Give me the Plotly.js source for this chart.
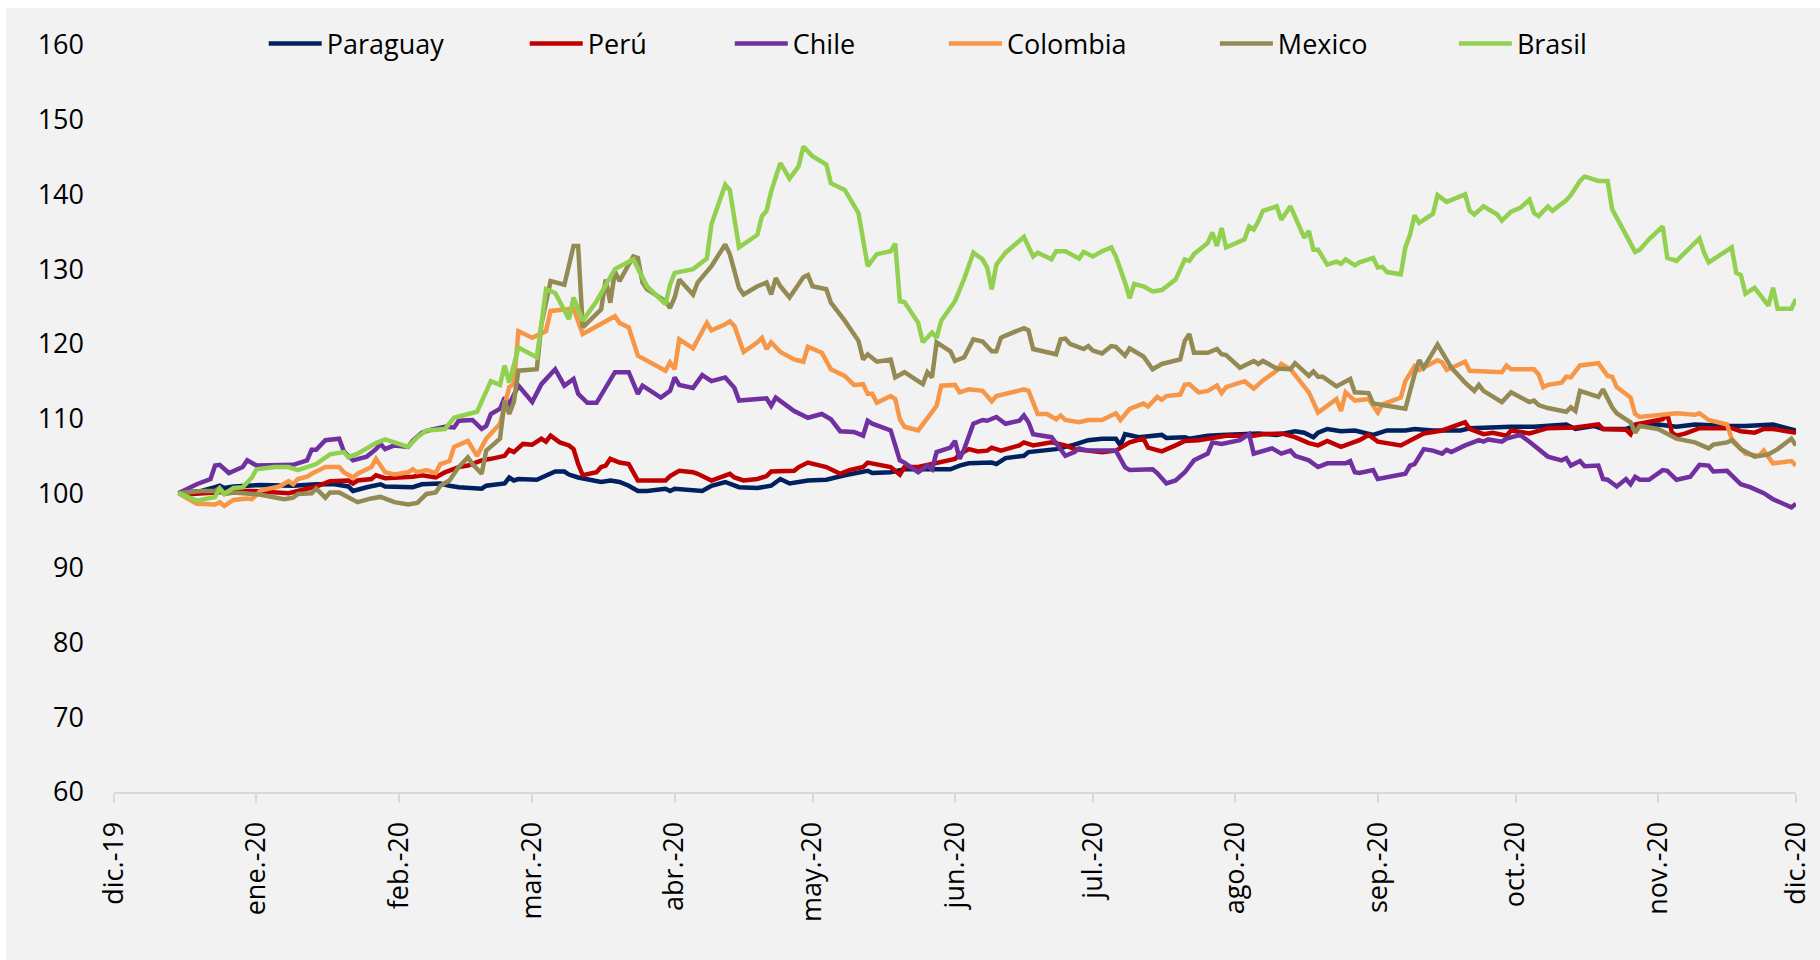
<!DOCTYPE html>
<html>
<head>
<meta charset="utf-8">
<script src="https://cdn.plot.ly/plotly-3.0.1.min.js"></script>
<style>
html,body{margin:0;padding:0;background:#ffffff;width:1820px;height:960px;overflow:hidden}
#chart{position:absolute;left:6px;top:8px;width:1814px;height:952px}
</style>
</head>
<body>
<div id="chart"></div>
<script>
// ---------- Data (index, base 100) ----------
const mesFechas = ['2019-12-01','2020-01-01','2020-02-01','2020-03-01','2020-04-01','2020-05-01','2020-06-01','2020-07-01','2020-08-01','2020-09-01','2020-10-01','2020-11-01','2020-12-01'];
const mesEtiquetas = ['dic.-19','ene.-20','feb.-20','mar.-20','abr.-20','may.-20','jun.-20','jul.-20','ago.-20','sep.-20','oct.-20','nov.-20','dic.-20'];
const yTicks = [60,70,80,90,100,110,120,130,140,150,160];

const paraguayFechas = [
'2019-12-15','2019-12-20','2019-12-23','2019-12-24','2019-12-25','2019-12-27','2020-01-02','2020-01-09','2020-01-14','2020-01-18',
'2020-01-21','2020-01-22','2020-01-25','2020-01-28','2020-01-29','2020-02-03','2020-02-04','2020-02-06','2020-02-10','2020-02-12',
'2020-02-14','2020-02-19','2020-02-20','2020-02-24','2020-02-25','2020-02-26','2020-02-27','2020-03-02','2020-03-04','2020-03-06',
'2020-03-08','2020-03-09','2020-03-11','2020-03-16','2020-03-18','2020-03-20','2020-03-22','2020-03-24','2020-03-26','2020-03-30',
'2020-03-31','2020-04-01','2020-04-07','2020-04-09','2020-04-12','2020-04-14','2020-04-15','2020-04-19','2020-04-21','2020-04-22',
'2020-04-24','2020-04-26','2020-04-30','2020-05-04','2020-05-08','2020-05-11','2020-05-13','2020-05-14','2020-05-18','2020-05-21',
'2020-05-26','2020-05-31','2020-06-02','2020-06-04','2020-06-09','2020-06-10','2020-06-12','2020-06-16','2020-06-17','2020-06-21',
'2020-06-23','2020-06-27','2020-06-30','2020-07-03','2020-07-06','2020-07-07','2020-07-08','2020-07-11','2020-07-15','2020-07-16',
'2020-07-17','2020-07-21','2020-07-22','2020-07-26','2020-07-29','2020-08-03','2020-08-06','2020-08-10','2020-08-14','2020-08-16',
'2020-08-18','2020-08-19','2020-08-21','2020-08-24','2020-08-27','2020-08-31','2020-09-03','2020-09-07','2020-09-09','2020-09-13',
'2020-09-19','2020-09-21','2020-09-25','2020-09-30','2020-10-05','2020-10-12','2020-10-14','2020-10-18','2020-10-20','2020-10-25',
'2020-10-27','2020-11-01','2020-11-05','2020-11-09','2020-11-16','2020-11-20','2020-11-26','2020-11-29','2020-12-01'];
const paraguayValores = [
100.0,100.3,100.8,101.0,100.7,100.9,101.1,101.0,101.2,101.2,
100.9,100.3,100.8,101.2,100.9,100.9,100.8,101.2,101.3,101.0,
100.8,100.6,101.0,101.3,102.1,101.7,101.9,101.8,102.3,102.9,
102.9,102.5,102.1,101.5,101.7,101.5,101.0,100.3,100.3,100.6,
100.3,100.6,100.3,101.0,101.5,101.1,100.8,100.7,101.0,101.0,
101.9,101.3,101.7,101.8,102.4,102.7,103.0,102.7,102.8,103.2,
103.2,103.2,103.7,104.0,104.1,103.9,104.7,105.0,105.5,105.7,
105.9,106.5,107.1,107.3,107.3,106.4,107.9,107.5,107.7,107.8,
107.4,107.5,107.3,107.7,107.8,107.9,108.0,107.8,108.3,108.1,
107.5,108.1,108.6,108.3,108.4,107.8,108.4,108.4,108.6,108.4,
108.4,108.7,108.8,108.9,108.9,109.2,108.6,109.0,108.6,108.6,
109.0,109.2,108.9,109.2,109.0,109.0,109.2,108.8,108.4];

const peruFechas = [
'2019-12-15','2019-12-18','2019-12-23','2019-12-26','2019-12-28','2019-12-31','2020-01-02','2020-01-06','2020-01-08','2020-01-10',
'2020-01-12','2020-01-14','2020-01-17','2020-01-20','2020-01-21','2020-01-22','2020-01-23','2020-01-26','2020-01-27','2020-01-29',
'2020-02-03','2020-02-04','2020-02-06','2020-02-09','2020-02-11','2020-02-14','2020-02-16','2020-02-19','2020-02-21','2020-02-24',
'2020-02-25','2020-02-26','2020-02-28','2020-03-01','2020-03-03','2020-03-04','2020-03-05','2020-03-07','2020-03-09','2020-03-10',
'2020-03-11','2020-03-12','2020-03-15','2020-03-16','2020-03-17','2020-03-18','2020-03-20','2020-03-22','2020-03-24','2020-03-30',
'2020-03-31','2020-04-02','2020-04-05','2020-04-06','2020-04-09','2020-04-13','2020-04-14','2020-04-16','2020-04-19','2020-04-21',
'2020-04-22','2020-04-27','2020-04-28','2020-04-30','2020-05-04','2020-05-05','2020-05-07','2020-05-09','2020-05-12','2020-05-13',
'2020-05-15','2020-05-18','2020-05-20','2020-05-21','2020-05-24','2020-05-27','2020-05-28','2020-06-01','2020-06-02','2020-06-04',
'2020-06-06','2020-06-08','2020-06-09','2020-06-11','2020-06-15','2020-06-16','2020-06-18','2020-06-22','2020-06-25','2020-06-27',
'2020-07-03','2020-07-06','2020-07-09','2020-07-12','2020-07-13','2020-07-16','2020-07-19','2020-07-21','2020-07-24','2020-07-28',
'2020-07-30','2020-08-02','2020-08-05','2020-08-07','2020-08-11','2020-08-14','2020-08-17','2020-08-19','2020-08-21','2020-08-24',
'2020-08-26','2020-08-28','2020-08-30','2020-09-01','2020-09-06','2020-09-08','2020-09-11','2020-09-15','2020-09-17','2020-09-20',
'2020-09-21','2020-09-24','2020-09-26','2020-09-29','2020-09-30','2020-10-04','2020-10-08','2020-10-14','2020-10-19','2020-10-20',
'2020-10-25','2020-10-26','2020-10-27','2020-10-30','2020-11-02','2020-11-03','2020-11-04','2020-11-05','2020-11-07','2020-11-10',
'2020-11-17','2020-11-19','2020-11-22','2020-11-24','2020-11-26','2020-11-28','2020-12-01'];
const peruValores = [
100.0,99.9,100.1,100.3,100.3,100.3,100.2,100.0,100.0,100.3,
100.6,100.9,101.6,101.7,101.7,101.3,101.7,101.9,102.4,102.0,
102.1,102.2,102.4,102.1,102.8,103.5,103.7,104.4,104.6,105.0,
105.8,105.5,106.6,106.5,107.3,106.9,107.7,106.8,106.4,105.9,
103.9,102.4,102.8,103.5,103.7,104.6,104.1,103.9,101.7,101.7,
102.3,103.0,102.8,102.6,101.7,102.6,102.1,101.7,101.9,102.3,
102.9,103.0,103.5,104.1,103.5,103.2,102.6,103.1,103.5,104.1,
103.8,103.5,102.5,103.5,103.5,103.9,104.1,104.6,105.2,105.9,
105.6,105.7,106.1,105.7,106.4,106.8,106.4,106.8,106.4,105.9,
105.5,105.7,106.8,107.3,106.1,105.6,106.4,107.0,107.1,107.5,
107.7,107.7,107.7,107.9,108.0,107.5,106.7,106.4,107.0,106.2,
106.7,107.1,107.8,106.9,106.4,107.1,108.0,108.4,108.8,109.5,
108.6,107.9,108.1,107.7,108.4,108.0,108.7,108.8,109.2,108.6,
108.5,107.9,109.2,109.5,109.9,110.6,108.1,107.7,108.0,108.7,
108.7,108.3,108.1,108.6,108.6,108.4,108.1];

const chileFechas = [
'2019-12-15','2019-12-19','2019-12-22','2019-12-23','2019-12-24','2019-12-26','2019-12-29','2019-12-30','2020-01-01','2020-01-05',
'2020-01-09','2020-01-12','2020-01-13','2020-01-14','2020-01-16','2020-01-19','2020-01-20','2020-01-22','2020-01-25','2020-01-27',
'2020-01-28','2020-01-29','2020-01-31','2020-02-03','2020-02-04','2020-02-06','2020-02-08','2020-02-11','2020-02-13','2020-02-14',
'2020-02-17','2020-02-19','2020-02-20','2020-02-21','2020-02-23','2020-02-24','2020-02-25','2020-02-27','2020-03-01','2020-03-03',
'2020-03-06','2020-03-08','2020-03-10','2020-03-11','2020-03-13','2020-03-15','2020-03-17','2020-03-19','2020-03-22','2020-03-24',
'2020-03-25','2020-03-29','2020-03-31','2020-04-01','2020-04-02','2020-04-05','2020-04-07','2020-04-09','2020-04-12','2020-04-14',
'2020-04-15','2020-04-21','2020-04-22','2020-04-23','2020-04-27','2020-04-29','2020-04-30','2020-05-03','2020-05-05','2020-05-07',
'2020-05-10','2020-05-12','2020-05-13','2020-05-14','2020-05-18','2020-05-20','2020-05-21','2020-05-24','2020-05-26','2020-05-27',
'2020-05-28','2020-05-31','2020-06-01','2020-06-02','2020-06-03','2020-06-05','2020-06-07','2020-06-08','2020-06-10','2020-06-12',
'2020-06-15','2020-06-16','2020-06-17','2020-06-18','2020-06-22','2020-06-23','2020-06-25','2020-06-27','2020-06-28','2020-06-30',
'2020-07-06','2020-07-08','2020-07-09','2020-07-14','2020-07-15','2020-07-17','2020-07-19','2020-07-21','2020-07-23','2020-07-26',
'2020-07-27','2020-07-29','2020-07-30','2020-08-02','2020-08-04','2020-08-05','2020-08-09','2020-08-11','2020-08-13','2020-08-14',
'2020-08-17','2020-08-19','2020-08-21','2020-08-25','2020-08-26','2020-08-27','2020-08-28','2020-08-31','2020-09-01','2020-09-07',
'2020-09-08','2020-09-09','2020-09-11','2020-09-13','2020-09-15','2020-09-16','2020-09-17','2020-09-20','2020-09-23','2020-09-24',
'2020-09-25','2020-09-28','2020-09-29','2020-10-02','2020-10-04','2020-10-06','2020-10-08','2020-10-11','2020-10-12','2020-10-13',
'2020-10-15','2020-10-16','2020-10-19','2020-10-20','2020-10-21','2020-10-23','2020-10-25','2020-10-26','2020-10-27','2020-10-28',
'2020-10-30','2020-11-02','2020-11-03','2020-11-05','2020-11-08','2020-11-10','2020-11-12','2020-11-13','2020-11-16','2020-11-19',
'2020-11-21','2020-11-24','2020-11-26','2020-11-30','2020-12-01'];
const chileValores = [
100.0,101.2,101.9,103.7,103.8,102.7,103.5,104.4,103.7,103.7,
103.8,104.4,105.8,105.8,107.1,107.3,105.6,104.4,104.9,105.9,
106.6,105.9,106.4,106.2,107.0,108.1,108.5,108.9,108.8,109.7,
109.8,108.6,109.0,110.6,111.3,112.8,111.9,114.4,112.2,114.6,
116.6,114.4,115.3,113.3,112.1,112.1,114.1,116.2,116.2,113.3,
114.4,112.8,113.7,115.5,114.5,114.1,115.8,115.0,115.5,114.1,
112.4,112.7,111.7,112.8,111.0,110.4,110.1,110.6,109.9,108.3,
108.2,107.7,109.7,109.3,108.4,104.4,104.1,102.8,103.7,103.2,
105.5,106.1,107.0,104.6,105.9,109.3,109.8,109.7,110.2,109.3,
109.7,110.4,109.5,107.9,107.5,106.7,105.0,105.5,106.0,105.7,
105.7,103.5,103.1,103.2,102.7,101.3,101.7,102.8,104.4,105.3,
106.8,106.6,106.7,107.1,107.9,105.3,106.0,105.3,105.7,105.0,
104.4,103.5,104.0,104.0,104.3,102.8,102.7,103.1,101.9,102.6,
103.7,103.9,105.9,105.7,105.3,105.8,105.5,106.4,107.1,106.9,
107.2,106.9,107.3,107.8,106.9,105.9,104.9,104.4,104.7,103.7,
104.3,103.6,103.7,101.9,101.8,100.9,101.9,101.2,102.2,101.8,
101.8,103.1,103.0,101.8,102.2,103.8,103.7,102.9,103.0,101.2,
100.8,100.0,99.2,98.1,98.6];

const colombiaFechas = [
'2019-12-15','2019-12-19','2019-12-23','2019-12-24','2019-12-25','2019-12-26','2019-12-27','2019-12-30','2019-12-31','2020-01-02',
'2020-01-04','2020-01-06','2020-01-08','2020-01-09','2020-01-10','2020-01-12','2020-01-13','2020-01-16','2020-01-19','2020-01-20',
'2020-01-22','2020-01-23','2020-01-26','2020-01-27','2020-01-29','2020-01-31','2020-02-03','2020-02-04','2020-02-05','2020-02-07',
'2020-02-09','2020-02-10','2020-02-12','2020-02-13','2020-02-16','2020-02-18','2020-02-20','2020-02-23','2020-02-25','2020-02-26',
'2020-02-27','2020-03-01','2020-03-04','2020-03-05','2020-03-08','2020-03-10','2020-03-12','2020-03-16','2020-03-19','2020-03-20',
'2020-03-22','2020-03-24','2020-03-30','2020-03-31','2020-04-01','2020-04-02','2020-04-05','2020-04-08','2020-04-09','2020-04-12',
'2020-04-13','2020-04-14','2020-04-16','2020-04-19','2020-04-20','2020-04-21','2020-04-22','2020-04-24','2020-04-27','2020-04-29',
'2020-04-30','2020-05-03','2020-05-05','2020-05-08','2020-05-10','2020-05-12','2020-05-13','2020-05-14','2020-05-15','2020-05-18',
'2020-05-19','2020-05-20','2020-05-21','2020-05-24','2020-05-27','2020-05-28','2020-05-29','2020-06-01','2020-06-02','2020-06-04',
'2020-06-07','2020-06-09','2020-06-10','2020-06-16','2020-06-17','2020-06-19','2020-06-21','2020-06-23','2020-06-24','2020-06-25',
'2020-06-28','2020-06-30','2020-07-03','2020-07-06','2020-07-07','2020-07-09','2020-07-12','2020-07-13','2020-07-15','2020-07-16',
'2020-07-17','2020-07-20','2020-07-21','2020-07-22','2020-07-24','2020-07-26','2020-07-28','2020-07-29','2020-07-30','2020-08-03',
'2020-08-05','2020-08-07','2020-08-10','2020-08-11','2020-08-13','2020-08-17','2020-08-19','2020-08-21','2020-08-23','2020-08-24',
'2020-08-25','2020-08-27','2020-08-30','2020-09-01','2020-09-02','2020-09-06','2020-09-07','2020-09-09','2020-09-10','2020-09-14',
'2020-09-15','2020-09-16','2020-09-20','2020-09-21','2020-09-28','2020-09-29','2020-09-30','2020-10-05','2020-10-06','2020-10-07',
'2020-10-08','2020-10-11','2020-10-12','2020-10-13','2020-10-15','2020-10-19','2020-10-21','2020-10-22','2020-10-23','2020-10-26',
'2020-10-27','2020-10-28','2020-11-02','2020-11-05','2020-11-09','2020-11-10','2020-11-12','2020-11-16','2020-11-17','2020-11-19',
'2020-11-20','2020-11-23','2020-11-24','2020-11-26','2020-11-30','2020-12-01'];
const colombiaValores = [
100.0,98.6,98.5,98.8,98.3,98.7,99.1,99.3,99.2,100.4,
100.7,100.9,101.6,101.2,101.9,102.2,102.6,103.5,103.5,102.8,
102.1,102.6,103.5,104.6,102.8,102.5,102.8,103.2,102.8,103.1,
102.7,103.9,104.3,106.2,107.0,105.0,107.3,109.3,114.2,114.6,
121.7,120.8,121.7,124.4,124.6,124.7,121.3,122.6,123.7,122.8,
122.2,118.4,116.4,117.5,116.6,120.6,119.4,122.8,121.8,122.6,
123.0,122.4,118.9,120.2,120.8,119.3,120.2,118.9,117.9,117.6,
119.6,118.8,116.6,115.7,114.5,114.6,113.3,113.3,112.1,113.0,
112.6,109.9,108.9,108.4,110.8,111.7,114.4,114.5,113.5,113.9,
113.7,112.3,113.0,113.9,113.7,110.6,110.6,109.9,110.4,109.8,
109.5,109.8,109.8,110.7,109.8,111.3,112.0,111.6,112.9,112.5,
113.0,113.2,114.5,114.6,113.5,113.7,114.4,113.4,114.2,115.0,
114.0,115.1,116.4,117.3,116.6,113.5,110.8,111.7,112.6,111.0,
113.5,112.4,112.6,110.8,111.9,112.8,115.0,117.0,116.5,117.8,
117.5,116.5,117.6,116.4,116.2,117.1,116.6,116.6,115.9,114.2,
114.5,114.8,115.6,115.5,117.1,117.4,115.7,115.6,114.2,112.8,
110.6,110.2,110.5,110.7,110.5,110.7,109.8,109.2,107.3,105.9,
105.3,105.0,105.7,104.0,104.3,103.7];

const mexicoFechas = [
'2019-12-15','2019-12-20','2019-12-23','2019-12-24','2019-12-25','2019-12-27','2020-01-02','2020-01-05','2020-01-07','2020-01-09',
'2020-01-10','2020-01-13','2020-01-14','2020-01-16','2020-01-17','2020-01-19','2020-01-22','2020-01-23','2020-01-26','2020-01-28',
'2020-01-31','2020-02-03','2020-02-05','2020-02-07','2020-02-09','2020-02-10','2020-02-12','2020-02-14','2020-02-16','2020-02-17',
'2020-02-19','2020-02-20','2020-02-23','2020-02-24','2020-02-25','2020-02-26','2020-02-27','2020-03-02','2020-03-03','2020-03-05',
'2020-03-08','2020-03-10','2020-03-11','2020-03-12','2020-03-16','2020-03-17','2020-03-18','2020-03-19','2020-03-20','2020-03-23',
'2020-03-24','2020-03-25','2020-03-26','2020-03-30','2020-03-31','2020-04-01','2020-04-02','2020-04-05','2020-04-06','2020-04-09',
'2020-04-12','2020-04-13','2020-04-15','2020-04-16','2020-04-19','2020-04-21','2020-04-22','2020-04-23','2020-04-24','2020-04-26',
'2020-04-29','2020-04-30','2020-05-01','2020-05-04','2020-05-05','2020-05-08','2020-05-11','2020-05-12','2020-05-13','2020-05-15',
'2020-05-18','2020-05-19','2020-05-21','2020-05-25','2020-05-26','2020-05-27','2020-05-28','2020-05-31','2020-06-01','2020-06-03',
'2020-06-05','2020-06-07','2020-06-09','2020-06-10','2020-06-11','2020-06-12','2020-06-16','2020-06-17','2020-06-18','2020-06-22',
'2020-06-23','2020-06-24','2020-06-25','2020-06-26','2020-06-29','2020-06-30','2020-07-01','2020-07-03','2020-07-05','2020-07-06',
'2020-07-08','2020-07-09','2020-07-12','2020-07-14','2020-07-16','2020-07-20','2020-07-21','2020-07-22','2020-07-23','2020-07-26',
'2020-07-28','2020-07-29','2020-07-30','2020-08-02','2020-08-05','2020-08-06','2020-08-07','2020-08-10','2020-08-13','2020-08-14',
'2020-08-17','2020-08-18','2020-08-19','2020-08-20','2020-08-23','2020-08-26','2020-08-27','2020-08-30','2020-08-31','2020-09-03',
'2020-09-07','2020-09-09','2020-09-10','2020-09-11','2020-09-13','2020-09-14','2020-09-17','2020-09-20','2020-09-22','2020-09-23',
'2020-09-24','2020-09-28','2020-09-30','2020-10-04','2020-10-05','2020-10-06','2020-10-08','2020-10-12','2020-10-13','2020-10-14',
'2020-10-15','2020-10-19','2020-10-20','2020-10-22','2020-10-23','2020-10-26','2020-10-27','2020-10-28','2020-11-01','2020-11-03',
'2020-11-05','2020-11-09','2020-11-12','2020-11-13','2020-11-16','2020-11-17','2020-11-18','2020-11-19','2020-11-22','2020-11-25',
'2020-11-27','2020-11-30','2020-12-01'];
const mexicoValores = [
100.0,100.3,100.3,100.7,99.9,100.1,99.8,99.5,99.2,99.4,
99.9,100.0,100.6,99.4,100.1,100.1,99.0,98.8,99.3,99.5,
98.8,98.5,98.7,99.9,100.1,101.0,101.7,103.5,104.8,103.9,
102.6,105.7,107.3,112.4,110.6,112.2,116.4,116.6,122.6,128.4,
127.9,133.1,133.1,122.2,124.6,128.6,125.5,129.7,128.4,131.7,
131.5,128.2,127.3,125.7,124.8,126.2,128.6,126.6,128.2,130.4,
133.3,132.0,127.5,126.6,127.7,128.2,126.6,128.8,127.7,126.2,
128.9,129.2,127.7,127.3,125.5,123.1,120.4,117.9,118.6,117.6,
117.9,115.5,116.2,114.6,116.2,115.5,120.2,119.0,117.7,118.2,
120.6,120.3,119.0,119.0,120.8,121.1,122.1,121.8,119.3,118.7,
118.6,120.6,120.7,120.0,119.3,119.7,119.1,118.7,119.7,119.6,
118.4,119.4,118.3,116.6,117.3,117.9,120.4,121.3,118.8,118.8,
119.3,118.6,118.5,116.8,117.7,117.3,117.7,116.7,116.6,117.4,
115.7,116.3,115.6,115.6,114.3,115.3,113.5,113.4,112.0,111.7,
111.3,115.9,117.8,116.8,118.8,119.9,116.8,114.8,113.7,114.5,
113.7,112.2,113.5,112.2,112.4,111.8,111.4,110.9,111.5,111.0,
113.7,112.9,113.9,111.5,110.7,109.5,108.1,109.0,108.6,107.9,
107.3,106.8,106.0,106.5,106.8,107.1,106.5,105.9,104.9,105.2,
105.9,107.3,106.4];

const brasilFechas = [
'2019-12-15','2019-12-19','2019-12-23','2019-12-24','2019-12-25','2019-12-27','2019-12-29','2019-12-31','2020-01-01','2020-01-05',
'2020-01-08','2020-01-10','2020-01-12','2020-01-14','2020-01-17','2020-01-20','2020-01-21','2020-01-23','2020-01-27','2020-01-29',
'2020-02-03','2020-02-05','2020-02-07','2020-02-11','2020-02-13','2020-02-18','2020-02-21','2020-02-23','2020-02-24','2020-02-25',
'2020-02-27','2020-03-02','2020-03-03','2020-03-04','2020-03-06','2020-03-09','2020-03-10','2020-03-12','2020-03-15','2020-03-19',
'2020-03-23','2020-03-26','2020-03-30','2020-03-31','2020-04-01','2020-04-05','2020-04-08','2020-04-09','2020-04-12','2020-04-13',
'2020-04-15','2020-04-19','2020-04-20','2020-04-21','2020-04-22','2020-04-24','2020-04-26','2020-04-28','2020-04-29','2020-05-01',
'2020-05-04','2020-05-05','2020-05-08','2020-05-11','2020-05-13','2020-05-15','2020-05-18','2020-05-19','2020-05-20','2020-05-21',
'2020-05-24','2020-05-25','2020-05-27','2020-05-28','2020-05-29','2020-06-01','2020-06-03','2020-06-05','2020-06-07','2020-06-08',
'2020-06-09','2020-06-10','2020-06-12','2020-06-16','2020-06-17','2020-06-18','2020-06-19','2020-06-22','2020-06-23','2020-06-25',
'2020-06-28','2020-06-29','2020-07-01','2020-07-03','2020-07-05','2020-07-06','2020-07-08','2020-07-09','2020-07-10','2020-07-12',
'2020-07-14','2020-07-16','2020-07-19','2020-07-21','2020-07-22','2020-07-23','2020-07-26','2020-07-27','2020-07-28','2020-07-29',
'2020-07-30','2020-08-03','2020-08-04','2020-08-05','2020-08-06','2020-08-07','2020-08-10','2020-08-11','2020-08-13','2020-08-16',
'2020-08-17','2020-08-18','2020-08-19','2020-08-21','2020-08-23','2020-08-24','2020-08-25','2020-08-27','2020-08-28','2020-08-31',
'2020-09-01','2020-09-02','2020-09-03','2020-09-06','2020-09-07','2020-09-08','2020-09-09','2020-09-10','2020-09-13','2020-09-14',
'2020-09-16','2020-09-18','2020-09-20','2020-09-21','2020-09-22','2020-09-24','2020-09-27','2020-09-28','2020-09-30','2020-10-02',
'2020-10-04','2020-10-05','2020-10-06','2020-10-08','2020-10-09','2020-10-12','2020-10-13','2020-10-15','2020-10-16','2020-10-19',
'2020-10-21','2020-10-22','2020-10-25','2020-10-27','2020-10-28','2020-10-30','2020-11-02','2020-11-03','2020-11-05','2020-11-08',
'2020-11-10','2020-11-11','2020-11-12','2020-11-17','2020-11-18','2020-11-19','2020-11-20','2020-11-22','2020-11-25','2020-11-26',
'2020-11-27','2020-11-30','2020-12-01'];
const brasilValores = [
100.0,99.0,99.5,100.6,99.9,100.7,100.8,102.1,103.2,103.5,
103.5,103.1,103.5,103.9,105.2,105.5,104.8,105.3,106.7,107.2,
106.2,107.5,108.4,108.6,110.1,110.9,115.0,114.5,117.1,114.8,
119.5,118.2,122.6,127.3,126.8,123.3,126.2,123.1,125.7,130.0,
131.3,127.7,125.3,127.9,129.5,130.0,131.4,136.0,141.3,140.6,
132.9,134.6,137.1,137.8,140.4,144.2,142.1,143.8,146.4,145.1,
144.0,141.5,140.6,137.5,130.4,132.0,132.4,133.4,125.7,125.6,
122.8,120.2,121.5,120.8,123.1,125.7,128.7,132.2,131.3,130.2,
127.3,130.6,132.2,134.3,133.0,131.7,132.2,131.3,132.4,132.4,
131.4,132.3,131.7,132.4,132.9,131.7,128.2,126.1,128.0,127.7,
127.0,127.2,128.6,131.3,131.1,132.0,133.5,134.9,133.1,135.5,
132.9,134.0,135.7,135.3,136.4,137.8,138.4,136.6,138.4,134.2,
135.1,132.6,132.6,130.6,131.0,130.7,131.3,130.5,130.9,131.5,
130.2,130.3,129.6,129.3,132.9,134.6,137.2,136.2,137.4,139.9,
139.0,139.5,140.0,137.8,137.3,138.4,137.3,136.5,137.7,138.2,
139.3,137.5,137.1,138.4,137.8,139.2,139.9,141.8,142.4,141.8,
141.8,138.0,134.4,132.3,132.6,134.0,135.7,131.5,131.1,132.9,
134.1,132.2,130.9,132.9,129.5,129.2,126.7,127.5,125.1,127.5,
124.7,124.7,126.0];

const paises = ['Paraguay','Perú','Chile','Colombia','Mexico','Brasil'];
const colores = ['#002060','#C00000','#7030A0','#F79646','#948A54','#92D050'];
const fechas = [paraguayFechas, peruFechas, chileFechas, colombiaFechas, mexicoFechas, brasilFechas];
const valores = [paraguayValores, peruValores, chileValores, colombiaValores, mexicoValores, brasilValores];

// ---------- Style ----------
const FONT = 'Open Sans, Lato, sans-serif';
const legendX = [0.0890, 0.2442, 0.3661, 0.4934, 0.6545, 0.7966];

const traces = paises.map((p, i) => ({
  type: 'scatter',
  mode: 'lines',
  name: p,
  x: fechas[i],
  y: valores[i],
  line: {color: colores[i], width: 4.5},
  legend: i === 0 ? 'legend' : 'legend' + (i + 1),
  hoverinfo: 'x+y+name'
}));

const layout = {
  width: 1814,
  height: 952,
  paper_bgcolor: '#F2F2F2',
  plot_bgcolor: '#F2F2F2',
  margin: {l: 108, r: 24, t: 36, b: 168},
  font: {family: FONT, size: 27, color: '#000000'},
  showlegend: true,
  xaxis: {
    type: 'date',
    range: ['2019-12-01', '2020-12-01'],
    tickmode: 'array',
    tickvals: mesFechas,
    ticktext: mesEtiquetas,
    tickangle: -90,
    ticks: 'outside',
    ticklen: 9,
    tickwidth: 2,
    tickcolor: '#D9D9D9',
    showline: true,
    linecolor: '#D9D9D9',
    linewidth: 2,
    showgrid: false,
    zeroline: false,
    ticklabelstandoff: 8,
    tickfont: {family: FONT, size: 27, color: '#000000'}
  },
  yaxis: {
    range: [60, 160],
    tickmode: 'array',
    tickvals: yTicks,
    ticks: '',
    showline: false,
    showgrid: false,
    zeroline: false,
    ticklabelstandoff: 29,
    tickfont: {family: FONT, size: 27, color: '#000000'}
  }
};

paises.forEach((p, i) => {
  const key = i === 0 ? 'legend' : 'legend' + (i + 1);
  layout[key] = {
    x: legendX[i],
    y: 1.0,
    xanchor: 'left',
    yanchor: 'middle',
    orientation: 'h',
    bgcolor: 'rgba(0,0,0,0)',
    borderwidth: 0,
    itemwidth: 53,
    font: {family: FONT, size: 27, color: '#000000'}
  };
});

Plotly.newPlot('chart', traces, layout, {displayModeBar: false, responsive: false});
</script>
</body>
</html>
